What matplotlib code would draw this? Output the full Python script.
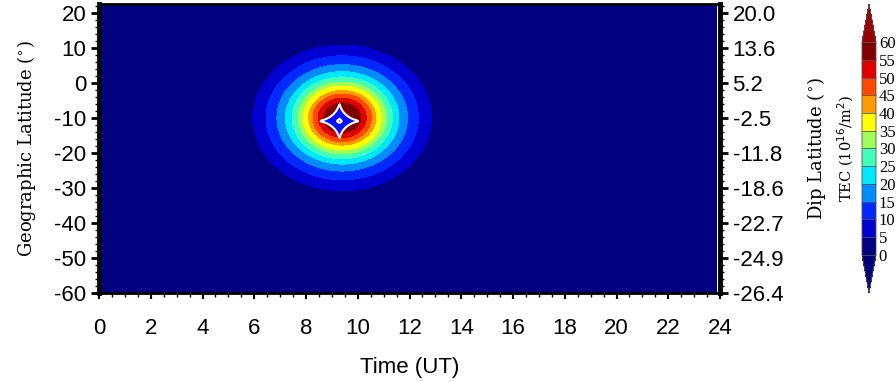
import numpy as np
import matplotlib
matplotlib.use("Agg")
import matplotlib.pyplot as plt
from matplotlib.colors import ListedColormap, BoundaryNorm
from matplotlib.ticker import MultipleLocator

plt.rcParams["axes.unicode_minus"] = False

# colour levels of the TEC map (10^16/m^2)
levels = [0, 5, 10, 15, 20, 25, 30, 35, 40, 45, 50, 55, 60]
level_colors = ["#000080", "#0000d0", "#0028ff", "#008cff", "#00e8ff", "#40ffb8",
                "#a0ff58", "#ffff00", "#ff9a00", "#ff4800", "#e00000", "#800000"]
under_color = "#000078"
over_color = "#990000"

# blob: half-width in hours of each contour ring
ring_levels = [5, 10, 15, 20, 25, 30, 35, 40, 45, 50, 55]
ring_halfwidth_h = [3.47, 2.94, 2.52, 2.19, 1.94, 1.70, 1.51, 1.29, 1.13, 0.93, 0.71]
peak_tec = 63
background_tec = 2
blob_center = (9.4, -10.0)   # (UT hour, geographic latitude)
lat_per_hour = 6.02          # vertical stretch of the rings

# star-shaped artefact in the middle
star_center = (9.29, -10.9)
star_half = (0.85, 5.4)

geo_ticks = [20, 10, 0, -10, -20, -30, -40, -50, -60]
dip_labels = ["20.0", "13.6", "5.2", "-2.5", "-11.8", "-18.6", "-22.7", "-24.9", "-26.4"]
time_ticks = list(range(0, 25, 2))

t = np.arange(0, 23.86, 0.05)
lat = np.arange(-60, 22.6, 0.25)
T, L = np.meshgrid(t, lat)
r = np.sqrt((T - blob_center[0]) ** 2 + ((L - blob_center[1]) / lat_per_hour) ** 2)
xp = [0] + ring_halfwidth_h[::-1]
fp = [peak_tec] + ring_levels[::-1]
tec = np.interp(r, xp, fp, right=background_tec)

s = (np.abs(T - star_center[0]) / star_half[0]) ** 0.6 + (np.abs(L - star_center[1]) / star_half[1]) ** 0.6

cmap = ListedColormap(level_colors)
cmap.set_under(under_color)
cmap.set_over(over_color)
norm = BoundaryNorm(levels, cmap.N)

fig = plt.figure(figsize=(8.96, 3.82), dpi=100)
ax = fig.add_axes([99 / 896, (382 - 293) / 382, 621 / 896, 289 / 382])
cf = ax.contourf(T, L, tec, levels=levels, cmap=cmap, norm=norm, extend="both")
# star
ax.contourf(T, L, s, levels=[0.35, 1.0], colors=["#0010ff"])
ax.contourf(T, L, s, levels=[0, 0.35], colors=["#800000"])
ax.contour(T, L, s, levels=[0.35, 1.0], colors="white", linewidths=1.5)

ax.set_xlim(0, 24)
ax.set_ylim(-60, 22.5)
ax.set_xticks(time_ticks)
ax.set_yticks(geo_ticks)
ax.xaxis.set_minor_locator(MultipleLocator(0.5))
ax.yaxis.set_minor_locator(MultipleLocator(2))
for sp in ax.spines.values():
    sp.set_linewidth(2)
ax.spines["left"].set_linewidth(3.5)
ax.tick_params(axis="x", which="major", direction="out", length=4, width=1.5, pad=14,
               labelsize=16, labelfontfamily="Liberation Sans")
ax.tick_params(axis="y", which="major", direction="out", length=6, width=2, pad=3,
               labelsize=16, labelfontfamily="Liberation Sans")
ax.tick_params(which="minor", direction="out", length=3, width=1)
ax.set_xlabel("Time (UT)", fontsize=16, family="Liberation Sans", labelpad=13)
ax.set_ylabel("Geographic Latitude ($^{\\circ}$)", fontsize=13, family="DejaVu Serif", labelpad=12)

ax2 = ax.twinx()
ax2.set_ylim(ax.get_ylim())
ax2.set_yticks(geo_ticks)
ax2.set_yticklabels(dip_labels)
ax2.yaxis.set_minor_locator(MultipleLocator(2))
ax2.spines["right"].set_linewidth(3.5)
ax2.tick_params(axis="y", which="major", direction="out", length=6, width=2, pad=3,
                labelsize=16, labelfontfamily="Liberation Sans")
ax2.tick_params(axis="y", which="minor", direction="out", length=3, width=1)
ax2.set_ylabel("Dip Latitude ($^{\\circ}$)", fontsize=13, family="DejaVu Serif", labelpad=16)

# colorbar axes includes the triangular extensions
cax = fig.add_axes([862 / 896, (382 - 293) / 382, 14 / 896, 289 / 382])
cb = fig.colorbar(cf, cax=cax, ticks=levels, extendfrac=0.18, drawedges=True)
cb.outline.set_linewidth(0.6)
cb.outline.set_edgecolor("#555555")
cb.dividers.set_color("#555555")
cb.dividers.set_linewidth(0.6)
cb.ax.tick_params(length=0, pad=2, labelsize=12)
for lab in cb.ax.get_yticklabels():
    lab.set_family("Liberation Serif")
cb.set_label("TEC (10$^{16}$/m$^{2}$)", fontsize=10.5, family="DejaVu Serif", labelpad=-43)

fig.savefig("out.png", dpi=100)
